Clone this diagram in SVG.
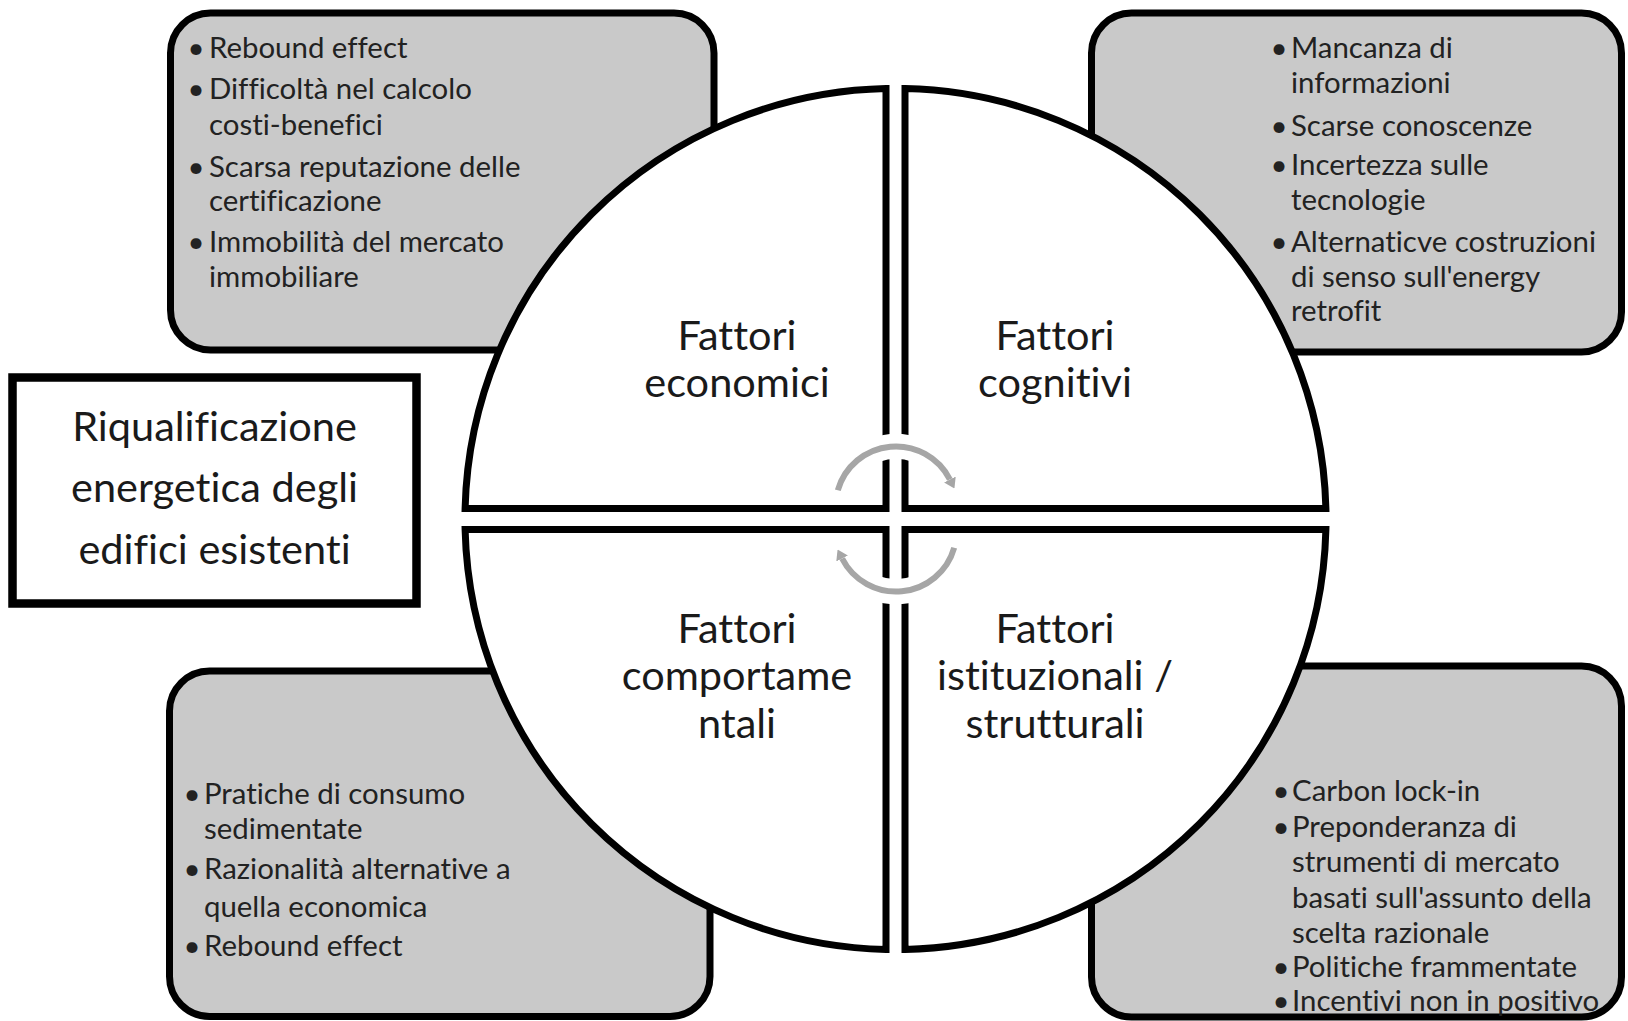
<svg xmlns="http://www.w3.org/2000/svg" width="1628" height="1021" viewBox="0 0 1628 1021">
  <style>
    .box { fill: #c9c9c9; stroke: #000; stroke-width: 7; }
    .quad { fill: #fff; stroke: #000; stroke-width: 7; stroke-linejoin: miter; }
    .title { fill: #fff; stroke: #000; stroke-width: 8.5; }
    .b { font-family: Lato, "Liberation Sans", sans-serif; font-size: 29.4px; fill: #222; font-variant-ligatures: none; }
    .bu { font-family: Lato, "Liberation Sans", sans-serif; font-size: 29.4px; fill: #222; text-anchor: middle; }
    .q { font-family: Lato, "Liberation Sans", sans-serif; font-size: 41.5px; fill: #1a1a1a; text-anchor: middle; font-variant-ligatures: none; }
    .halo { fill: none; stroke: #fff; stroke-width: 25; }
    .arc { fill: none; stroke: #a6a6a6; stroke-width: 6; }
  </style>
  <defs>
    <marker id="ah" markerUnits="userSpaceOnUse" markerWidth="10" markerHeight="13" refX="0" refY="6.5" orient="auto">
      <path d="M0,0 L10,6.5 L0,13 Z" fill="#a6a6a6"/>
    </marker>
  </defs>
  <rect width="1628" height="1021" fill="#fff"/>

  <g id="box-economici">
    <rect class="box" x="170.5" y="13" width="543.5" height="337" rx="40"/>
  </g>
  <g id="box-cognitivi">
    <rect class="box" x="1091.5" y="13" width="530" height="339" rx="40"/>
  </g>
  <g id="box-comportamentali">
    <rect class="box" x="169.5" y="671" width="540.5" height="345.5" rx="40"/>
  </g>
  <g id="box-istituzionali">
    <rect class="box" x="1091.5" y="666" width="530" height="351" rx="40"/>
  </g>

  <g id="quad-economici">
    <path class="quad" d="M886,508.5 H465.1 A430.5,430.5 0 0 1 886,88.6 Z"/>
    <text class="q" x="737" y="350">Fattori</text>
    <text class="q" x="737" y="396.5">economici</text>
  </g>
  <g id="quad-cognitivi">
    <path class="quad" d="M905,508.5 V88.6 A430.5,430.5 0 0 1 1325.9,508.5 Z"/>
    <text class="q" x="1055" y="350">Fattori</text>
    <text class="q" x="1055" y="396.5">cognitivi</text>
  </g>
  <g id="quad-comportamentali">
    <path class="quad" d="M886,529.5 V949.4 A430.5,430.5 0 0 1 465.1,529.5 Z"/>
    <text class="q" x="737" y="643">Fattori</text>
    <text class="q" x="737" y="690">comportame</text>
    <text class="q" x="737" y="738">ntali</text>
  </g>
  <g id="quad-istituzionali">
    <path class="quad" d="M905,529.5 H1325.9 A430.5,430.5 0 0 1 905,949.4 Z"/>
    <text class="q" x="1055" y="643">Fattori</text>
    <text class="q" x="1055" y="690">istituzionali /</text>
    <text class="q" x="1055" y="738">strutturali</text>
  </g>

  <g id="connectors">
    <path class="halo" d="M875.3,450.1 A60.5,60.5 0 0 1 916.7,450.1"/>
    <path class="halo" d="M916.7,587.9 A60.5,60.5 0 0 1 875.3,587.9"/>
    <path class="arc" d="M837.8,490.3 A60.5,60.5 0 0 1 949.9,479.5" marker-end="url(#ah)"/>
    <path class="arc" d="M954.2,547.7 A60.5,60.5 0 0 1 842.1,558.5" marker-end="url(#ah)"/>
  </g>

  <g id="title">
    <rect class="title" x="12.5" y="377.5" width="404" height="226"/>
    <text class="q" x="214.5" y="440.5">Riqualificazione</text>
    <text class="q" x="214.5" y="501.5">energetica degli</text>
    <text class="q" x="214.5" y="563.5">edifici esistenti</text>
  </g>

  <g id="list-economici">
    <text class="bu" x="196" y="57.5">•</text>
    <text class="b" x="209" y="57.5">Rebound effect</text>
    <text class="bu" x="196" y="98.5">•</text>
    <text class="b" x="209" y="98.5">Difficoltà nel calcolo</text>
    <text class="b" x="209" y="134.5">costi-benefici</text>
    <text class="bu" x="196" y="176.5">•</text>
    <text class="b" x="209" y="176.5">Scarsa reputazione delle</text>
    <text class="b" x="209" y="210.5">certificazione</text>
    <text class="bu" x="196" y="251.5">•</text>
    <text class="b" x="209" y="251.5">Immobilità del mercato</text>
    <text class="b" x="209" y="286.5">immobiliare</text>
  </g>
  <g id="list-cognitivi">
    <text class="bu" x="1279" y="58">•</text>
    <text class="b" x="1291" y="58">Mancanza di</text>
    <text class="b" x="1291" y="92.5">informazioni</text>
    <text class="bu" x="1279" y="135.5">•</text>
    <text class="b" x="1291" y="135.5">Scarse conoscenze</text>
    <text class="bu" x="1279" y="175">•</text>
    <text class="b" x="1291" y="175">Incertezza sulle</text>
    <text class="b" x="1291" y="210">tecnologie</text>
    <text class="bu" x="1279" y="252">•</text>
    <text class="b" x="1291" y="252">Alternaticve costruzioni</text>
    <text class="b" x="1291" y="287">di senso sull'energy</text>
    <text class="b" x="1291" y="321">retrofit</text>
  </g>
  <g id="list-comportamentali">
    <text class="bu" x="192" y="804">•</text>
    <text class="b" x="204" y="804">Pratiche di consumo</text>
    <text class="b" x="204" y="839">sedimentate</text>
    <text class="bu" x="192" y="879">•</text>
    <text class="b" x="204" y="879">Razionalità alternative a</text>
    <text class="b" x="204" y="917">quella economica</text>
    <text class="bu" x="192" y="956">•</text>
    <text class="b" x="204" y="956">Rebound effect</text>
  </g>
  <g id="list-istituzionali">
    <text class="bu" x="1281" y="801">•</text>
    <text class="b" x="1292" y="801">Carbon lock-in</text>
    <text class="bu" x="1281" y="836.5">•</text>
    <text class="b" x="1292" y="836.5">Preponderanza di</text>
    <text class="b" x="1292" y="871.5">strumenti di mercato</text>
    <text class="b" x="1292" y="908">basati sull'assunto della</text>
    <text class="b" x="1292" y="943">scelta razionale</text>
    <text class="bu" x="1281" y="977">•</text>
    <text class="b" x="1292" y="977">Politiche frammentate</text>
    <text class="bu" x="1281" y="1011">•</text>
    <text class="b" x="1292" y="1011">Incentivi non in positivo</text>
  </g>
</svg>
